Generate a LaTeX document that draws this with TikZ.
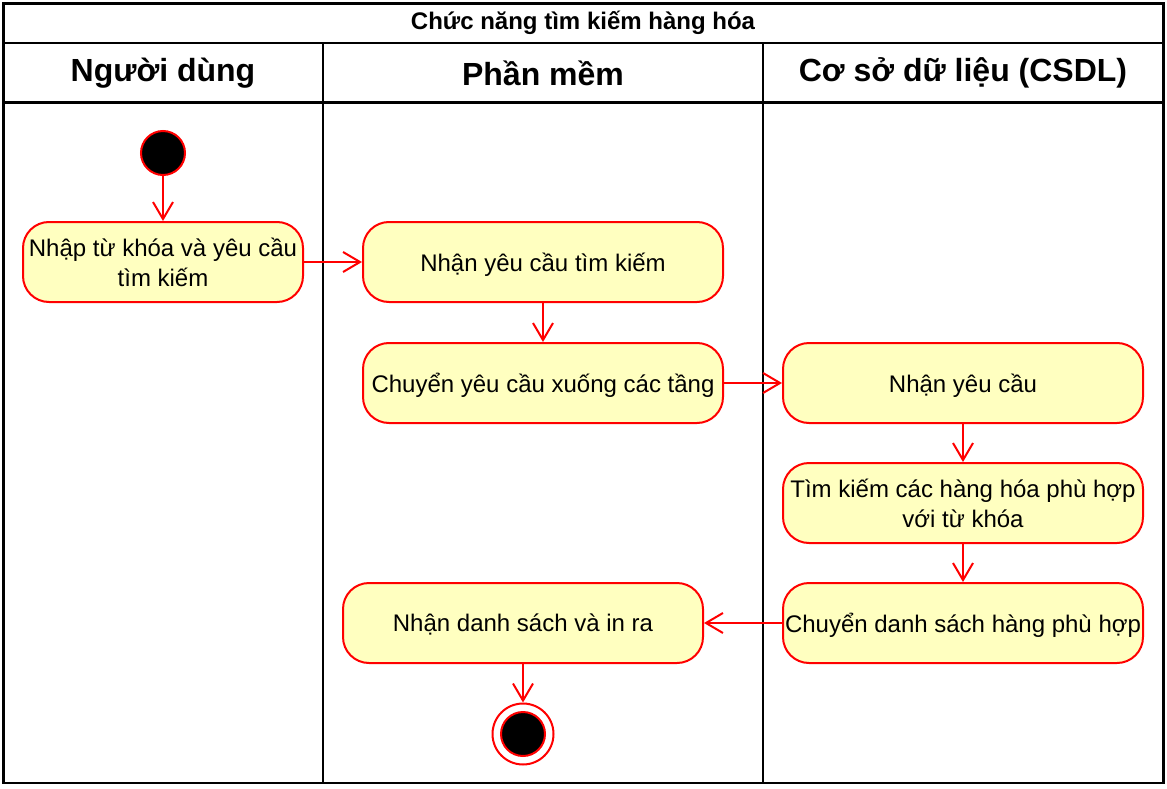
\documentclass[tikz,border=0pt]{standalone}
\usepackage{fontspec}
\setmainfont{Liberation Sans}
\usetikzlibrary{arrows.meta}
\definecolor{actfill}{HTML}{FFFFC0}
\definecolor{actline}{HTML}{FF0000}
\tikzset{
  lane/.style={draw=black, line width=2.5pt},
  action/.style={draw=actline, fill=actfill, line width=2pt, rounded corners=26pt,
    minimum width=360pt, minimum height=80pt, align=center, font=\fontsize{24}{30}\selectfont,
    inner sep=0pt, text depth=0pt},
  flow/.style={draw=actline, line width=2pt, -{Straight Barb[length=17pt,width=20pt,line width=2pt]}},
  lanehead/.style={font=\bfseries\fontsize{32}{36}\selectfont},
}
\begin{document}
\begin{tikzpicture}[x=1pt,y=-1pt]
\useasboundingbox (0,0) rectangle (1167,789);
% swimlane frame
\draw[lane] (3.5,3.5) rectangle (1163.5,783);
\draw[lane] (3.5,43) -- (1163.5,43);
\draw[lane] (3.5,102.5) -- (1163.5,102.5);
\draw[lane] (323,43) -- (323,783);
\draw[lane] (763,43) -- (763,783);
\node[font=\bfseries\fontsize{24}{28}\selectfont] (title) at (583,23) {Chức năng tìm kiếm hàng hóa};
\node[lanehead] (h1) at (163,73) {Người dùng};
\node[lanehead] (h2) at (543,73) {Phần mềm};
\node[lanehead] (h3) at (963,73) {Cơ sở dữ liệu (CSDL)};
% activities
\node[circle, fill=black, draw=actline, line width=2pt, minimum size=44pt, inner sep=0pt] (start) at (163,153) {};
\node[action, minimum width=280pt] (a1) at (163,262) {Nhập từ khóa và yêu cầu\\tìm kiếm};
\node[action] (a2) at (543,262) {Nhận yêu cầu tìm kiếm};
\node[action] (a3) at (543,383) {Chuyển yêu cầu xuống các tầng};
\node[action] (b1) at (963,383) {Nhận yêu cầu};
\node[action] (b2) at (963,503) {Tìm kiếm các hàng hóa phù hợp\\với từ khóa};
\node[action] (b3) at (963,623) {Chuyển danh sách hàng phù hợp};
\node[action] (a4) at (523,623) {Nhận danh sách và in ra};
\node[circle, draw=actline, fill=white, line width=2pt, minimum size=61pt, inner sep=0pt] (stop) at (523,734) {};
\node[circle, fill=black, draw=actline, line width=2pt, minimum size=44pt, inner sep=0pt] (stopin) at (523,734) {};
% control flow
\draw[flow] (start) -- (a1);
\draw[flow] (a1) -- (a2);
\draw[flow] (a2) -- (a3);
\draw[flow] (a3) -- (b1);
\draw[flow] (b1) -- (b2);
\draw[flow] (b2) -- (b3);
\draw[flow] (b3) -- (a4);
\draw[flow] (a4) -- (stop);
\end{tikzpicture}
\end{document}
